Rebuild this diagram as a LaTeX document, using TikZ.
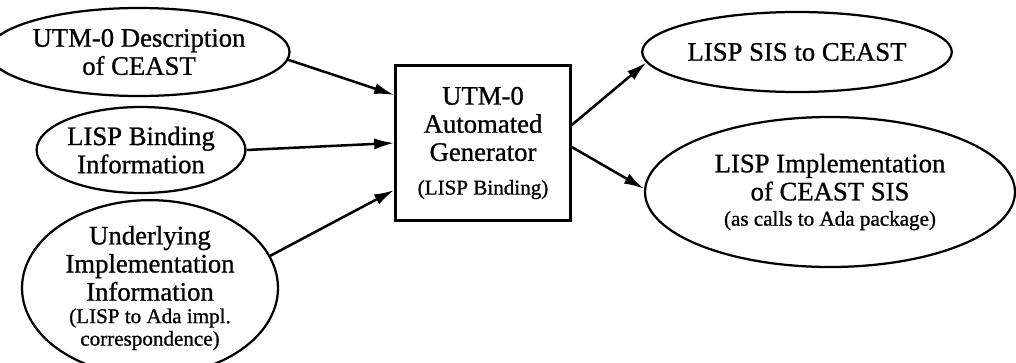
\documentclass[tikz,border=0pt]{standalone}
\usepackage{fontspec}
\setmainfont{Liberation Serif}[FakeBold=0.9]
\usepackage{tikz}
\usetikzlibrary{arrows.meta,shapes.geometric}
\newcommand{\subtxt}[1]{{\fontsize{15}{16}\selectfont #1}}

\begin{document}
\begin{tikzpicture}[
  font=\fontsize{19}{20}\selectfont,
  item/.style={ellipse, draw=black, line width=1.6pt, inner sep=0pt, align=center},
  genbox/.style={draw=black, line width=1.8pt, inner sep=0pt, align=center},
  arrow/.style={-{Latex[length=0.5cm, width=0.28cm]}, line width=1.8pt}
]
\useasboundingbox (0,0) rectangle (25.4,9.05);

% Inputs
\node[item, minimum width=6.55cm, minimum height=2.2cm] (desc) at (3.475, 7.75) {UTM-0 Description\\of CEAST};
\node[item, minimum width=4.8cm, minimum height=2.15cm] (bind) at (3.525, 5.3) {LISP Binding\\Information};
\node[item, minimum width=6.4cm, minimum height=3.65cm] (under) at (3.75, 1.85)
{\fontsize{19}{17.5}\selectfont Underlying\\Implementation\\Information\\[-4pt]\subtxt{(LISP to Ada impl.}\\[-4pt]\subtxt{correspondence)}};

% Generator
\node[genbox, minimum width=4.375cm, minimum height=3.875cm] (gen) at (12.075, 5.475)
{UTM-0\\Automated\\Generator\\[4pt]\subtxt{(LISP Binding)}};

% Outputs
\node[item, minimum width=5.78cm, minimum height=2.0cm] (sis) at (19.925, 7.75) {LISP SIS to CEAST};
\node[item, minimum width=9.25cm, minimum height=3.75cm] (impl) at (20.75, 4.25)
{\fontsize{19}{17.5}\selectfont LISP Implementation\\of CEAST SIS\\[-2pt]\subtxt{(as calls to Ada package)}};

\draw[arrow] (desc.-3) -- ([yshift=1.2cm]gen.west);
\draw[arrow] (bind.east) -- (gen.west);
\draw[arrow] (under.15) -- ([yshift=-1.175cm]gen.west);
\draw[arrow] ([yshift=0.45cm]gen.east) -- (sis.184);
\draw[arrow] ([yshift=-0.1cm]gen.east) -- (impl.179);

\end{tikzpicture}
\end{document}
